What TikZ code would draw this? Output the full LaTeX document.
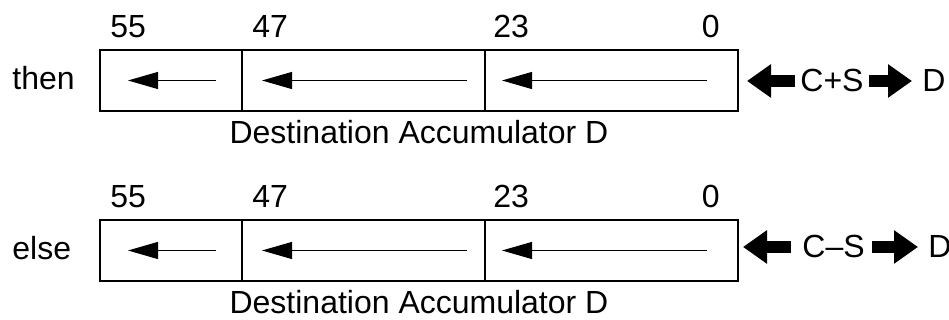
\documentclass[tikz,border=0pt]{standalone}
\usepackage{fontspec}
\setmainfont{Liberation Sans}
\usetikzlibrary{positioning,arrows.meta,calc}
\newcommand{\regfont}{\fontsize{16}{19}\selectfont}
\tikzset{
  field/.style={draw, line width=0.6pt, minimum height=30.5pt, inner sep=0pt, outer sep=0pt},
  bitlbl/.style={font=\regfont, inner sep=0pt, anchor=base west},
  txt/.style={font=\regfont, inner sep=0pt},
  shiftarr/.style={line width=0.5pt, -{Triangle[length=15pt,width=8.5pt]}},
  fatarr/.style={line width=6pt, -{Triangle[length=12pt,width=16pt]}},
}

\begin{document}
\begin{tikzpicture}[x=0.5pt, y=0.5pt]
    \useasboundingbox (0,0) rectangle (949,320);
    % then-row
    \node[field, minimum width=71pt, anchor=north west] (t55) at (100,270) {};
    \node[field, minimum width=121.5pt, right=0pt of t55] (t47) {};
    \node[field, minimum width=126.5pt, right=0pt of t47] (t23) {};
    \node[bitlbl] (tl55) at ($(t55.north west)+(10,12)$) {55};
    \node[bitlbl] (tl47) at ($(t47.north west)+(10,12)$) {47};
    \node[bitlbl] (tl23) at ($(t23.north west)+(8,12)$) {23};
    \node[bitlbl, anchor=base east] (tl0) at ($(t23.north east)+(-18,12)$) {0};
    \node[bitlbl] (tcond) at (12,230) {then};
    \node[txt, anchor=base] (tdest) at ($($(t55.south west)!0.5!(t23.south east)$)+(0,-33)$)
      {Destination Accumulator D};
    \draw[shiftarr] ([xshift=-13pt]t55.east) -- ([xshift=14pt]t55.west);
    \draw[shiftarr] ([xshift=-9pt]t47.east) -- ([xshift=10pt]t47.west);
    \draw[shiftarr] ([xshift=-15.5pt]t23.east) -- ([xshift=8.5pt]t23.west);
    \node[txt, anchor=base west] (top) at (800,228) {C+S};
    \node[txt, anchor=base west] (tD) at (922,228) {D};
    \draw[fatarr, shorten <=2.5pt, shorten >=4.5pt] (top.west) -- (top.west -| t23.east);
    \draw[fatarr, shorten <=2.5pt, shorten >=5pt] (top.east) -- (top.east -| tD.west);
    % else-row
    \node[field, minimum width=71pt, anchor=north west] (e55) at (100,100) {};
    \node[field, minimum width=121.5pt, right=0pt of e55] (e47) {};
    \node[field, minimum width=126.5pt, right=0pt of e47] (e23) {};
    \node[bitlbl] (el55) at ($(e55.north west)+(10,12)$) {55};
    \node[bitlbl] (el47) at ($(e47.north west)+(10,12)$) {47};
    \node[bitlbl] (el23) at ($(e23.north west)+(8,12)$) {23};
    \node[bitlbl, anchor=base east] (el0) at ($(e23.north east)+(-18,12)$) {0};
    \node[bitlbl] (econd) at (12,60) {else};
    \node[txt, anchor=base] (edest) at ($($(e55.south west)!0.5!(e23.south east)$)+(0,-33)$)
      {Destination Accumulator D};
    \draw[shiftarr] ([xshift=-13pt]e55.east) -- ([xshift=14pt]e55.west);
    \draw[shiftarr] ([xshift=-9pt]e47.east) -- ([xshift=10pt]e47.west);
    \draw[shiftarr] ([xshift=-15.5pt]e23.east) -- ([xshift=8.5pt]e23.west);
    \node[txt, anchor=base west] (eop) at (802,62) {C--S};
    \node[txt, anchor=base west] (eD) at (928,62) {D};
    \draw[fatarr, shorten <=5.5pt, shorten >=2.5pt] (eop.west) -- (eop.west -| e23.east);
    \draw[fatarr, shorten <=3.5pt, shorten >=5pt] (eop.east) -- (eop.east -| eD.west);
\end{tikzpicture}
\end{document}
